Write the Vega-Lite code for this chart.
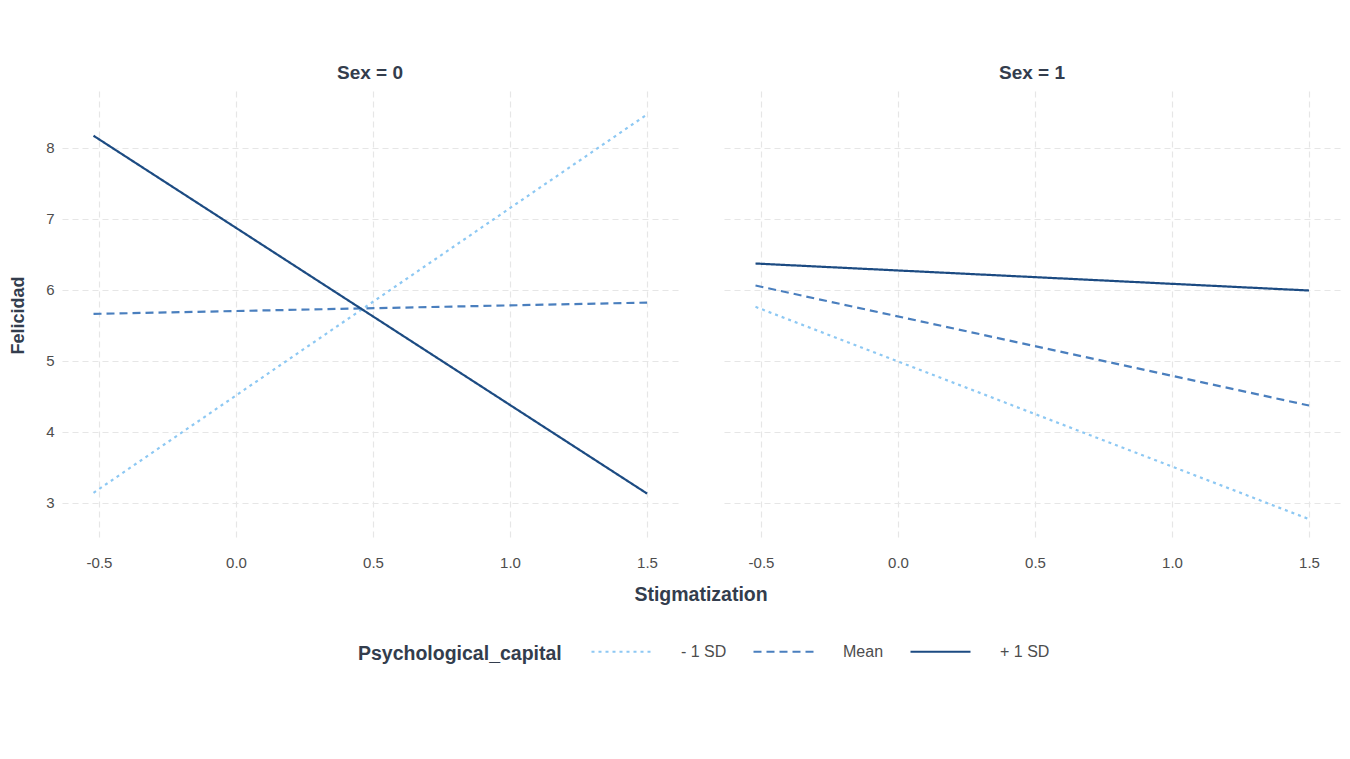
{
  "$schema": "https://vega.github.io/schema/vega-lite/v6.json",
  "padding": {"left": 9, "top": 64, "right": 5, "bottom": 5},
  "data": {
    "values": [
      {"Sex": 0, "Psychological_capital": "- 1 SD", "Stigmatization": -0.52, "Felicidad": 3.14},
      {"Sex": 0, "Psychological_capital": "- 1 SD", "Stigmatization": 1.5, "Felicidad": 8.47},
      {"Sex": 0, "Psychological_capital": "Mean", "Stigmatization": -0.52, "Felicidad": 5.66},
      {"Sex": 0, "Psychological_capital": "Mean", "Stigmatization": 1.5, "Felicidad": 5.82},
      {"Sex": 0, "Psychological_capital": "+ 1 SD", "Stigmatization": -0.52, "Felicidad": 8.17},
      {"Sex": 0, "Psychological_capital": "+ 1 SD", "Stigmatization": 1.5, "Felicidad": 3.13},
      {"Sex": 1, "Psychological_capital": "- 1 SD", "Stigmatization": -0.52, "Felicidad": 5.76},
      {"Sex": 1, "Psychological_capital": "- 1 SD", "Stigmatization": 1.5, "Felicidad": 2.77},
      {"Sex": 1, "Psychological_capital": "Mean", "Stigmatization": -0.52, "Felicidad": 6.06},
      {"Sex": 1, "Psychological_capital": "Mean", "Stigmatization": 1.5, "Felicidad": 4.37},
      {"Sex": 1, "Psychological_capital": "+ 1 SD", "Stigmatization": -0.52, "Felicidad": 6.37},
      {"Sex": 1, "Psychological_capital": "+ 1 SD", "Stigmatization": 1.5, "Felicidad": 5.99}
    ]
  },
  "facet": {
    "column": {
      "field": "Sex",
      "type": "ordinal",
      "header": {
        "title": "Stigmatization",
        "titleOrient": "bottom",
        "labelOrient": "top",
        "labelExpr": "'Sex = ' + datum.value",
        "labelFont": "Liberation Sans",
        "labelFontSize": 19,
        "labelFontWeight": "bold",
        "labelColor": "#333d4d",
        "labelPadding": 8,
        "titleFont": "Liberation Sans",
        "titleFontSize": 19.5,
        "titleFontWeight": "bold",
        "titleColor": "#333d4d",
        "titlePadding": 6
      }
    }
  },
  "spacing": 46,
  "spec": {
    "width": 616,
    "height": 448,
    "mark": {"type": "line", "strokeWidth": 2.2},
    "encoding": {
      "x": {
        "field": "Stigmatization",
        "type": "quantitative",
        "scale": {"domain": [-0.635, 1.613], "nice": false, "zero": false},
        "axis": {
          "values": [-0.5, 0, 0.5, 1, 1.5],
          "labelExpr": "datum.value < 0 ? '-' + format(-datum.value, '.1f') : format(datum.value, '.1f')",
          "labelPadding": 16,
          "title": null
        }
      },
      "y": {
        "field": "Felicidad",
        "type": "quantitative",
        "scale": {"domain": [2.49, 8.8], "nice": false, "zero": false},
        "axis": {"values": [3, 4, 5, 6, 7, 8], "title": "Felicidad", "labelPadding": 8, "titlePadding": 18}
      },
      "color": {
        "field": "Psychological_capital",
        "type": "nominal",
        "scale": {
          "domain": ["- 1 SD", "Mean", "+ 1 SD"],
          "range": ["#8dc8f3", "#4a7fbe", "#1c4b82"]
        },
        "legend": {
          "title": "Psychological_capital",
          "orient": "none",
          "legendX": 296,
          "legendY": 529,
          "direction": "horizontal",
          "titleOrient": "left",
          "titleBaseline": "line-top",
          "titleLineHeight": 28,
          "titleAnchor": "middle",
          "titleLimit": 400
        }
      },
      "strokeDash": {
        "field": "Psychological_capital",
        "type": "nominal",
        "scale": {
          "domain": ["- 1 SD", "Mean", "+ 1 SD"],
          "range": [[3, 4], [8, 5], [1, 0]]
        }
      }
    }
  },
  "config": {
    "view": {"stroke": null},
    "font": "Liberation Sans",
    "axis": {
      "domain": false,
      "ticks": false,
      "gridColor": "#e6e6e6",
      "gridDash": [6, 4],
      "gridWidth": 1.2,
      "labelFont": "Liberation Sans",
      "labelFontSize": 15,
      "labelColor": "#4d4d4d",
      "titleFont": "Liberation Sans",
      "titleFontSize": 18,
      "titleFontWeight": "bold",
      "titleColor": "#333d4d"
    },
    "legend": {
      "titleFont": "Liberation Sans",
      "titleFontSize": 19.5,
      "titleFontWeight": "bold",
      "titleColor": "#333d4d",
      "titlePadding": 28,
      "labelFont": "Liberation Sans",
      "labelFontSize": 16,
      "labelColor": "#4d4d4d",
      "labelOffset": 28,
      "symbolType": "stroke",
      "symbolSize": 3600,
      "symbolStrokeWidth": 2.2,
      "columnPadding": 22
    }
  }
}
